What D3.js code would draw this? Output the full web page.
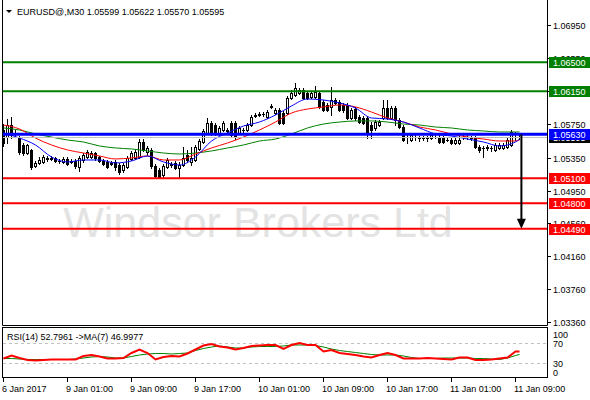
<!DOCTYPE html>
<html><head><meta charset="utf-8">
<script src="https://cdn.jsdelivr.net/npm/d3@7"></script>
<style>
html,body{margin:0;padding:0;background:#fff;}
svg text{font-family:"Liberation Sans",Arial,sans-serif;}
</style></head>
<body><svg id="c" width="590" height="400"></svg>
<script>
// ---------- DATA ----------
const symbolTitle = "EURUSD@,M30  1.05599 1.05622 1.05570 1.05595";
const rsiTitle = "RSI(14) 52.7961  ->MA(7) 46.9977";
const watermark = "Windsor Brokers Ltd";

const open = [1.05683,1.05598,1.05743,1.05647,1.05586,1.05502,1.05405,1.05442,1.05248,1.05285,1.05297,1.05345,1.05333,1.05345,1.05309,1.05297,1.05333,1.05297,1.05309,1.05236,
1.05321,1.05357,1.05357,1.05405,1.05357,1.05309,1.05297,1.05272,1.05297,1.05260,1.05200,1.05236,1.05333,1.05345,1.05357,1.05538,1.05418,1.05442,1.05248,1.05200,
1.05140,1.05236,1.05272,1.05285,1.05224,1.05260,1.05381,1.05297,1.05321,1.05454,1.05538,1.05647,1.05767,1.05743,1.05647,1.05683,1.05683,1.05767,1.05767,1.05647,
1.05683,1.05683,1.05743,1.05851,1.05864,1.05876,1.05840,1.05961,1.05888,1.05924,1.05888,1.05888,1.06069,1.06105,1.06130,1.06166,1.06130,1.06081,1.06081,1.06130,
1.06021,1.05985,1.05961,1.06045,1.06021,1.05985,1.05985,1.05828,1.05936,1.05840,1.05828,1.05828,1.05743,1.05707,1.05743,1.05828,1.05948,1.05828,1.05948,1.05804,
1.05719,1.05598,1.05562,1.05598,1.05586,1.05586,1.05586,1.05586,1.05598,1.05598,1.05586,1.05562,1.05562,1.05526,1.05526,1.05598,1.05598,1.05586,1.05586,1.05478,
1.05466,1.05466,1.05466,1.05442,1.05466,1.05466,1.05478,1.05502,1.05598,1.05599];
const high = [1.05755,1.05816,1.05840,1.05683,1.05610,1.05526,1.05514,1.05454,1.05309,1.05357,1.05381,1.05369,1.05369,1.05357,1.05333,1.05357,1.05357,1.05333,1.05333,1.05369,
1.05405,1.05442,1.05430,1.05418,1.05369,1.05333,1.05321,1.05309,1.05321,1.05285,1.05285,1.05369,1.05430,1.05442,1.05574,1.05574,1.05490,1.05466,1.05272,1.05224,
1.05272,1.05345,1.05297,1.05309,1.05297,1.05478,1.05442,1.05478,1.05502,1.05574,1.05695,1.05828,1.05792,1.05767,1.05731,1.05792,1.05707,1.05792,1.05792,1.05731,
1.05707,1.05767,1.05864,1.05888,1.05900,1.05900,1.05924,1.05997,1.05948,1.05948,1.05912,1.06093,1.06166,1.06250,1.06190,1.06190,1.06154,1.06154,1.06214,1.06154,
1.06045,1.06009,1.06202,1.06069,1.06045,1.06009,1.06009,1.05948,1.05961,1.05864,1.05851,1.05851,1.05779,1.05804,1.05804,1.06045,1.06045,1.05973,1.05973,1.05828,
1.05743,1.05623,1.05647,1.05623,1.05610,1.05610,1.05610,1.05647,1.05623,1.05623,1.05610,1.05586,1.05586,1.05586,1.05610,1.05635,1.05635,1.05610,1.05610,1.05502,
1.05490,1.05502,1.05490,1.05526,1.05526,1.05526,1.05586,1.05683,1.05659,1.05622];
const low = [1.05490,1.05526,1.05586,1.05598,1.05393,1.05381,1.05393,1.05212,1.05236,1.05272,1.05285,1.05309,1.05321,1.05297,1.05285,1.05285,1.05260,1.05285,1.05224,1.05188,
1.05297,1.05345,1.05345,1.05321,1.05297,1.05260,1.05224,1.05260,1.05200,1.05152,1.05176,1.05224,1.05321,1.05333,1.05345,1.05430,1.05381,1.05224,1.05104,1.05104,
1.05116,1.05224,1.05236,1.05212,1.05104,1.05248,1.05297,1.05260,1.05309,1.05442,1.05526,1.05635,1.05623,1.05623,1.05623,1.05671,1.05659,1.05598,1.05574,1.05635,
1.05659,1.05671,1.05731,1.05840,1.05851,1.05851,1.05828,1.05948,1.05876,1.05755,1.05755,1.05876,1.06057,1.06093,1.06117,1.06057,1.06057,1.06069,1.06069,1.05948,
1.05912,1.05912,1.05864,1.05997,1.05912,1.05900,1.05816,1.05816,1.05804,1.05767,1.05755,1.05586,1.05586,1.05683,1.05731,1.05816,1.05816,1.05816,1.05743,1.05707,
1.05550,1.05526,1.05550,1.05562,1.05550,1.05562,1.05550,1.05574,1.05586,1.05526,1.05526,1.05550,1.05514,1.05514,1.05514,1.05574,1.05574,1.05562,1.05466,1.05418,
1.05357,1.05442,1.05430,1.05430,1.05454,1.05454,1.05466,1.05490,1.05562,1.05570];
const close = [1.05526,1.05743,1.05623,1.05635,1.05418,1.05405,1.05502,1.05236,1.05285,1.05321,1.05357,1.05333,1.05345,1.05309,1.05309,1.05333,1.05272,1.05309,1.05248,1.05345,
1.05381,1.05418,1.05405,1.05345,1.05309,1.05272,1.05236,1.05285,1.05236,1.05176,1.05260,1.05345,1.05405,1.05418,1.05538,1.05442,1.05466,1.05248,1.05128,1.05116,
1.05248,1.05321,1.05260,1.05224,1.05260,1.05345,1.05321,1.05345,1.05478,1.05550,1.05671,1.05767,1.05647,1.05647,1.05707,1.05767,1.05671,1.05623,1.05598,1.05707,
1.05683,1.05743,1.05840,1.05864,1.05876,1.05876,1.05900,1.05973,1.05924,1.05767,1.05767,1.06069,1.06130,1.06190,1.06166,1.06069,1.06069,1.06130,1.06142,1.05961,
1.05924,1.05924,1.06045,1.06009,1.05924,1.05924,1.05828,1.05924,1.05828,1.05779,1.05767,1.05647,1.05683,1.05779,1.05779,1.05948,1.05828,1.05948,1.05804,1.05719,
1.05562,1.05598,1.05623,1.05598,1.05586,1.05586,1.05586,1.05623,1.05598,1.05538,1.05538,1.05562,1.05526,1.05562,1.05562,1.05598,1.05598,1.05586,1.05478,1.05442,
1.05466,1.05478,1.05466,1.05502,1.05502,1.05502,1.05562,1.05659,1.05598,1.05595];

// moving averages, read every 4 bars (last point = last bar)
const maBars = [0,4,8,12,16,20,24,28,32,36,40,44,48,52,56,60,64,68,72,76,80,84,88,92,96,100,104,108,112,116,120,124,128,129];
const maFast = [1.05647,1.05586,1.05502,1.05357,1.05297,1.05321,1.05321,1.05285,1.05309,1.05369,1.05297,1.05260,1.05357,1.05550,1.05647,1.05731,1.05779,1.05864,1.05973,1.06057,1.06045,1.06009,1.05948,1.05828,1.05816,1.05779,1.05707,1.05635,1.05610,1.05574,1.05538,1.05490,1.05538,1.05574];
const maMid = [1.05743,1.05695,1.05586,1.05502,1.05442,1.05405,1.05369,1.05333,1.05345,1.05369,1.05321,1.05321,1.05393,1.05466,1.05526,1.05598,1.05683,1.05779,1.05888,1.05936,1.05961,1.05985,1.05961,1.05900,1.05828,1.05779,1.05719,1.05683,1.05635,1.05598,1.05574,1.05550,1.05550,1.05562];
const maSlow = [1.05707,1.05683,1.05635,1.05598,1.05562,1.05538,1.05490,1.05466,1.05454,1.05430,1.05405,1.05393,1.05405,1.05430,1.05466,1.05502,1.05550,1.05574,1.05635,1.05707,1.05755,1.05779,1.05792,1.05792,1.05779,1.05755,1.05743,1.05719,1.05707,1.05683,1.05671,1.05659,1.05659,1.05659];

// RSI panel, read every 2 bars (last point = last bar)
const rsiBars = d3.range(0, 129, 2).concat([129]);
const rsiValues = [39,45,40,36,35,36,37,37,37,37,44,46,43,39,39,40,50,57,50,37,42,44,43,49,57,65,68,63,61,57,60,64,65,66,66,58,66,70,66,66,53,56,50,48,46,43,41,46,50,46,39,39,39,40,39,38,37,41,41,36,36,37,39,41,53,52.8];
const rsiMA = [39,39,38,37,37,37,37,37,37,38,40,42,43,42,40,40,43,46,48,49,49,48,49,50,55,59,62,64,62,60,60,62,63,63,63,64,66,66,66,65,62,58,55,53,51,49,47,46,46,46,44,41,39,39,39,40,40,40,40,39,39,38,37,40,45,47];

// price levels
const levelPrices = [1.0650, 1.0615, 1.0563, 1.0510, 1.0480, 1.0449];
const levelLabels = ["1.06500","1.06150","1.05630","1.05100","1.04800","1.04490"];
const levelColors = ["#008000","#008000","#0000ff","#ff0000","#ff0000","#ff0000"];
const currentPrice = 1.05595;
const currentLabel = "1.05595";

// axes
const priceTicks = [1.0695,1.0655,1.0615,1.0575,1.0535,1.0495,1.0456,1.0416,1.0376,1.0336];
const priceTickLabels = ["1.06950","1.06550","1.06150","1.05750","1.05350","1.04950","1.04560","1.04160","1.03760","1.03360"];
const timeTickBars = [0,16,32,48,64,80,96,112,128];
const timeTickLabels = ["6 Jan 2017","9 Jan 01:00","9 Jan 09:00","9 Jan 17:00","10 Jan 01:00","10 Jan 09:00","10 Jan 17:00","11 Jan 01:00","11 Jan 09:00"];
const rsiTicks = [100,70,30,0];
const rsiLevels = [70,30];

// ---------- LAYOUT ----------
const svg = d3.select("#c");
const L = 2, R = 547, mainTop = 0, mainBot = 325, rsiTop = 327, rsiBot = 377;
const x = d3.scaleLinear().domain([0, 129]).range([3, 519]);
const y = d3.scaleLinear().domain([1.03329, 1.07252]).range([mainBot, mainTop]);
const ry = d3.scaleLinear().domain([0, 100]).range([378, 328]);
const font = "9px";

// watermark
svg.append("text").attr("x", 258).attr("y", 237).attr("text-anchor","middle")
  .attr("font-size", 43).attr("fill", "#e3e3e3").text(watermark);

// candles
const g = svg.append("g");
const n = open.length;
for (let i = 0; i < n; i++) {
  const cx = x(i);
  const yh = Math.round(y(high[i])), yl = Math.round(y(low[i]));
  g.append("rect").attr("x", cx).attr("y", yh).attr("width", 1).attr("height", Math.max(1, yl - yh + 1)).attr("fill", "#000");
  const top = Math.round(y(Math.max(open[i], close[i]))), bot = Math.round(y(Math.min(open[i], close[i])));
  const h = Math.max(1, bot - top + 1);
  g.append("rect").attr("x", cx - 1).attr("y", top).attr("width", 3).attr("height", h).attr("fill", "#000");
  if (close[i] > open[i] && h > 2) {
    g.append("rect").attr("x", cx).attr("y", top + 1).attr("width", 1).attr("height", h - 2).attr("fill", "#fff");
  }
}

// moving averages
const maLine = arr => d3.line().x((d, k) => x(maBars[k]) + 0.5).y(d => y(d)).curve(d3.curveMonotoneX)(arr);
svg.append("path").attr("d", maLine(maSlow)).attr("fill","none").attr("stroke","#008000").attr("stroke-width",1);
svg.append("path").attr("d", maLine(maMid)).attr("fill","none").attr("stroke","#ff0000").attr("stroke-width",1);
svg.append("path").attr("d", maLine(maFast)).attr("fill","none").attr("stroke","#0000ff").attr("stroke-width",1);

// current price line
svg.append("line").attr("x1", L).attr("x2", R).attr("y1", Math.round(y(currentPrice)) + 0.5).attr("y2", Math.round(y(currentPrice)) + 0.5)
  .attr("stroke", "#c0c0c0").attr("stroke-width", 1);

// level lines
levelPrices.forEach((p, k) => {
  const yy = y(p);
  svg.append("line").attr("x1", L).attr("x2", R).attr("y1", yy).attr("y2", yy)
    .attr("stroke", levelColors[k]).attr("stroke-width", levelColors[k] === "#0000ff" ? 3 : 2);
});

// arrow
const ax = x(129.6), ay1 = y(1.0563), ay2 = y(1.0449);
svg.append("line").attr("x1", ax).attr("x2", ax).attr("y1", ay1).attr("y2", ay2 - 8).attr("stroke", "#000").attr("stroke-width", 2);
svg.append("path").attr("d", `M${ax-4.5},${ay2-10}L${ax+4.5},${ay2-10}L${ax},${ay2}Z`).attr("fill", "#000");

// title
svg.append("rect").attr("x", 0).attr("y", 0).attr("width", 240).attr("height", 1).attr("fill", "#fff");
svg.append("path").attr("d", "M6,10L12,10L9,13Z").attr("fill", "#000");
svg.append("text").attr("x", 17).attr("y", 15).attr("font-size", font).attr("fill", "#000").text(symbolTitle);

// frames
svg.append("path").attr("d", `M${L+0.5},${mainTop}V${mainBot+0.5}H${R+0.5}V${mainTop}`).attr("fill","none").attr("stroke","#000");
svg.append("rect").attr("x", L + 0.5).attr("y", rsiTop + 0.5).attr("width", R - L).attr("height", rsiBot - rsiTop).attr("fill","none").attr("stroke","#000");

// price axis
priceTicks.forEach((p, k) => {
  const yy = Math.round(y(p)) + 0.5;
  svg.append("line").attr("x1", R).attr("x2", R + 4).attr("y1", yy).attr("y2", yy).attr("stroke", "#000");
  svg.append("text").attr("x", 553).attr("y", yy + 3.5).attr("font-size", font).attr("fill", "#000").text(priceTickLabels[k]);
});

// current price label (black), then level labels
const boxW = 41;
function box(p, label, col) {
  const yy = Math.round(y(p));
  svg.append("rect").attr("x", 549).attr("y", yy - 5).attr("width", boxW).attr("height", 11).attr("fill", col);
  svg.append("text").attr("x", 553).attr("y", yy + 4).attr("font-size", font).attr("fill", "#fff").text(label);
}
box(currentPrice, currentLabel, "#000");
levelPrices.forEach((p, k) => box(p, levelLabels[k], levelColors[k]));

// RSI panel
rsiLevels.forEach(v => {
  svg.append("line").attr("x1", L + 1).attr("x2", R).attr("y1", Math.round(ry(v)) + 0.5).attr("y2", Math.round(ry(v)) + 0.5)
    .attr("stroke", "#c0c0c0").attr("stroke-dasharray", "3,3");
});
const rl = (vals) => d3.line().x((d, k) => x(rsiBars[k]) + 0.5).y(d => ry(d))(vals);
svg.append("path").attr("d", rl(rsiMA)).attr("fill","none").attr("stroke","#008000").attr("stroke-width",1);
svg.append("path").attr("d", rl(rsiValues)).attr("fill","none").attr("stroke","#ff0000").attr("stroke-width",2);
svg.append("text").attr("x", 7).attr("y", 340).attr("font-size", font).attr("fill", "#000").text(rsiTitle);
rsiTicks.forEach(v => {
  const yy = Math.min(372, Math.max(334, ry(v)));
  svg.append("text").attr("x", 553).attr("y", yy + 3.5).attr("font-size", font).attr("fill", "#000").text(String(v));
});

// time axis
timeTickBars.forEach((b, k) => {
  const xx = x(b) + 0.5;
  svg.append("line").attr("x1", xx).attr("x2", xx).attr("y1", rsiBot).attr("y2", rsiBot + 5).attr("stroke", "#000");
  svg.append("text").attr("x", x(b) - 1).attr("y", 392).attr("font-size", font).attr("fill", "#000").text(timeTickLabels[k]);
});
</script></body></html>
